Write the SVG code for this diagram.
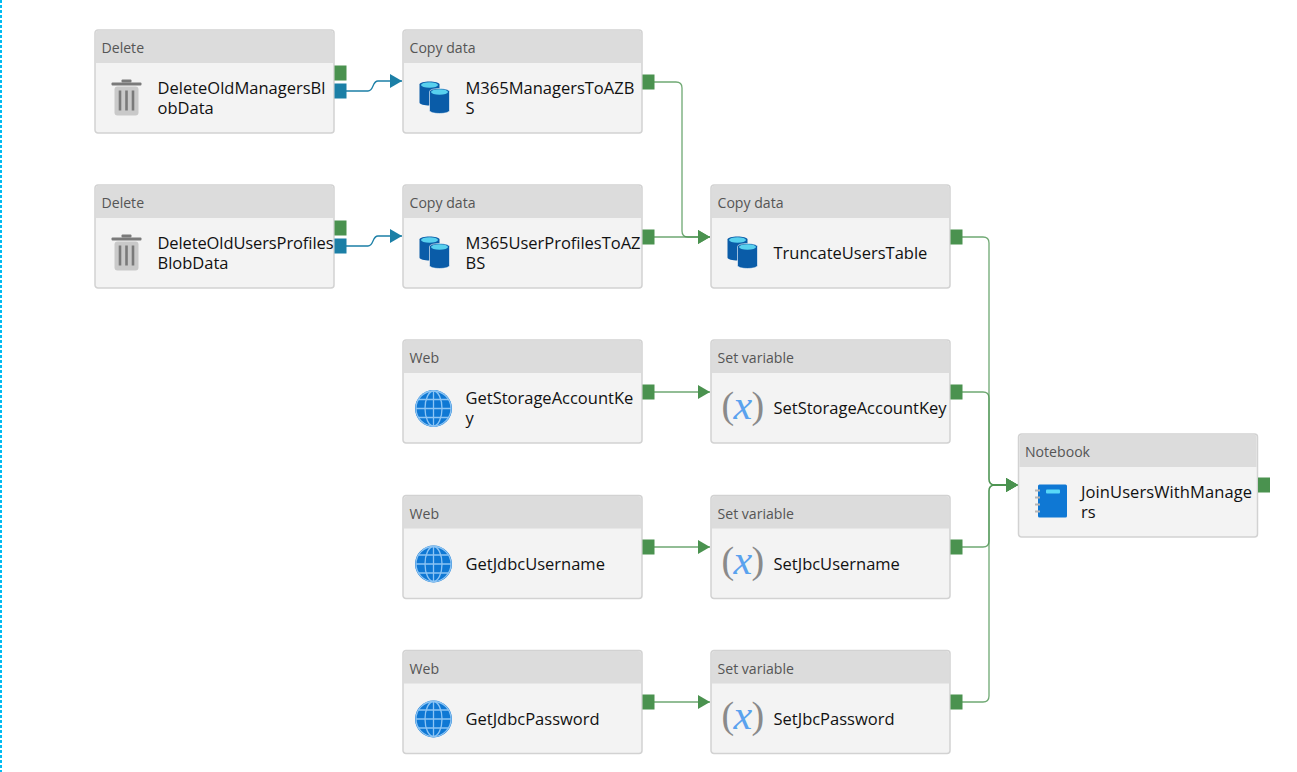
<svg xmlns="http://www.w3.org/2000/svg" xmlns:xlink="http://www.w3.org/1999/xlink" width="1297" height="772" viewBox="0 0 1297 772">
<style>
.box{fill:#f3f3f3;stroke:#d2d2d2;stroke-width:1.5}
.hd{fill:#dcdcdc}
.t{font-family:"Open Sans","Noto Sans",sans-serif;font-size:14.100px;fill:#555}
.n{font-family:"Open Sans","Noto Sans",sans-serif;font-size:16.500px;fill:#111}
.g{fill:#4a924f}
.b{fill:#1b7fa6}
.cg{fill:none;stroke:#4a924f;stroke-width:1.3;stroke-opacity:.8}
.cb{fill:none;stroke:#1b7fa6;stroke-width:1.3}
</style>
<defs>
<marker id="ag" markerUnits="userSpaceOnUse" markerWidth="12" markerHeight="14" refX="12" refY="7" orient="auto"><path d="M0 0L12 7L0 14Z" fill="#4a924f"/></marker>
<marker id="ab" markerUnits="userSpaceOnUse" markerWidth="12" markerHeight="14" refX="12" refY="7" orient="auto"><path d="M0 0L12 7L0 14Z" fill="#1b7fa6"/></marker>
<g id="box"><rect class="box" x="0.5" y="0.5" width="239" height="103" rx="3"/><path class="hd" d="M1.5 4a3 3 0 0 1 3-3H235.500a3 3 0 0 1 3 3V33.500H1.500Z"/></g>
<g id="trash"><rect x="3" y="8" width="24" height="29" rx="3" fill="#c9c9c9"/><rect x="0" y="4" width="30" height="3" rx="1" fill="#7a7a7a"/><rect x="10" y="1" width="10" height="3" rx="1" fill="#7a7a7a"/><path d="M8.500 12V32M15 12V32M21.500 12V32" stroke="#7a7a7a" stroke-width="2.600"/></g>
<g id="db"><path d="M0 4C0 0 20 0 20 4V22C20 26 0 26 0 22Z" fill="#0a5ca8"/><ellipse cx="10" cy="4.500" rx="8.500" ry="2.800" fill="#58d0ee"/><path d="M10 11C10 7 30 7 30 11V30C30 34 10 34 10 30Z" fill="#0a5ca8" stroke="#fff" stroke-width=".6"/><ellipse cx="20" cy="11.500" rx="8.500" ry="2.800" fill="#58d0ee"/></g>
<g id="web"><circle cx="19" cy="19" r="18.500" fill="#0f78d4"/><g fill="none" stroke="#8cc4f4" stroke-width="1.300"><circle cx="19" cy="19" r="17.500"/><ellipse cx="19" cy="19" rx="8.500" ry="17.500"/><path d="M19 1.500V36.500M1.500 19H36.500M4 10H34M4 28H34"/></g></g>
<g id="var"><text x="0" y="29" font-family="'Liberation Serif',serif" font-size="38" fill="#8a8a8a">(</text><text x="12" y="30" font-family="'Liberation Serif',serif" font-size="42" font-style="italic" fill="#5aa2ee">x</text><text x="30" y="29" font-family="'Liberation Serif',serif" font-size="38" fill="#8a8a8a">)</text></g>
<g id="nb"><rect x="3" y="0" width="29" height="33" rx="1.500" fill="#0f78d4"/><rect x="11" y="5" width="14" height="4" rx="1" fill="#58d8f8"/><path d="M0 6H5M0 13H5M0 20H5M0 27H5" stroke="#b5b5b5" stroke-width="2"/></g>
</defs>
<rect width="1297" height="772" fill="#fff"/>
<path d="M1 0V772" stroke="#00bcf2" stroke-width="2" stroke-dasharray="3 2"/>

<g id="connectors">
<path class="cb" d="M346 91H368C374 91 372 81 378 81H402" marker-end="url(#ab)"/>
<path class="cb" d="M346 246H368C374 246 372 236 378 236H402" marker-end="url(#ab)"/>
<path class="cg" d="M654 82H676Q682 82 682 88V231Q682 237 688 237H710" marker-end="url(#ag)"/>
<path class="cg" d="M654 237H710" marker-end="url(#ag)"/>
<path class="cg" d="M654 392H710" marker-end="url(#ag)"/>
<path class="cg" d="M654 547H710" marker-end="url(#ag)"/>
<path class="cg" d="M654 702H710" marker-end="url(#ag)"/>
<path class="cg" d="M962 237H983Q989 237 989 243V479Q989 485 995 485H1018" marker-end="url(#ag)"/>
<path class="cg" d="M962 392H983Q989 392 989 398V479Q989 485 995 485H1018" marker-end="url(#ag)"/>
<path class="cg" d="M962 547H983Q989 547 989 541V491Q989 485 995 485H1018" marker-end="url(#ag)"/>
<path class="cg" d="M962 702H983Q989 702 989 696V491Q989 485 995 485H1018" marker-end="url(#ag)"/>
</g>

<g id="n1" transform="translate(94.500,29.500)"><use href="#box"/><text class="t" x="7" y="23">Delete</text><use href="#trash" x="17" y="49"/><text class="n" x="63" y="64">DeleteOldManagersBl</text><text class="n" x="63" y="84">obData</text><rect class="g" x="240" y="36" width="12" height="15"/><rect class="b" x="240" y="54" width="12" height="15"/></g>
<g id="n2" transform="translate(94.500,184.500)"><use href="#box"/><text class="t" x="7" y="23">Delete</text><use href="#trash" x="17" y="49"/><text class="n" x="63" y="64" textLength="176">DeleteOldUsersProfiles</text><text class="n" x="63" y="84">BlobData</text><rect class="g" x="240" y="36" width="12" height="15"/><rect class="b" x="240" y="54" width="12" height="15"/></g>
<g id="n3" transform="translate(402.500,29.500)"><use href="#box"/><text class="t" x="7" y="23">Copy data</text><use href="#db" x="17" y="51"/><text class="n" x="63" y="64">M365ManagersToAZB</text><text class="n" x="63" y="84">S</text><rect class="g" x="240" y="45" width="12" height="15"/></g>
<g id="n4" transform="translate(402.500,184.500)"><use href="#box"/><text class="t" x="7" y="23">Copy data</text><use href="#db" x="17" y="51"/><text class="n" x="63" y="64" textLength="175">M365UserProfilesToAZ</text><text class="n" x="63" y="84">BS</text><rect class="g" x="240" y="45" width="12" height="15"/></g>
<g id="n5" transform="translate(710.500,184.500)"><use href="#box"/><text class="t" x="7" y="23">Copy data</text><use href="#db" x="17" y="51"/><text class="n" x="63" y="74">TruncateUsersTable</text><rect class="g" x="240" y="45" width="12" height="15"/></g>
<g id="n6" transform="translate(402.500,339.500)"><use href="#box"/><text class="t" x="7" y="23">Web</text><use href="#web" x="12" y="50"/><text class="n" x="63" y="64">GetStorageAccountKe</text><text class="n" x="63" y="84">y</text><rect class="g" x="240" y="45" width="12" height="15"/></g>
<g id="n7" transform="translate(710.500,339.500)"><use href="#box"/><text class="t" x="7" y="23">Set variable</text><use href="#var" x="11" y="49"/><text class="n" x="63" y="74">SetStorageAccountKey</text><rect class="g" x="240" y="45" width="12" height="15"/></g>
<g id="n8" transform="translate(402.500,495)"><use href="#box"/><text class="t" x="7" y="24">Web</text><use href="#web" x="12" y="50"/><text class="n" x="63" y="75">GetJdbcUsername</text><rect class="g" x="240" y="44.500" width="12" height="15"/></g>
<g id="n9" transform="translate(710.500,495)"><use href="#box"/><text class="t" x="7" y="24">Set variable</text><use href="#var" x="11" y="49"/><text class="n" x="63" y="75">SetJbcUsername</text><rect class="g" x="240" y="44.500" width="12" height="15"/></g>
<g id="n10" transform="translate(402.500,650)"><use href="#box"/><text class="t" x="7" y="24">Web</text><use href="#web" x="12" y="50"/><text class="n" x="63" y="75">GetJdbcPassword</text><rect class="g" x="240" y="44.500" width="12" height="15"/></g>
<g id="n11" transform="translate(710.500,650)"><use href="#box"/><text class="t" x="7" y="24">Set variable</text><use href="#var" x="11" y="49"/><text class="n" x="63" y="75">SetJbcPassword</text><rect class="g" x="240" y="44.500" width="12" height="15"/></g>
<g id="n12" transform="translate(1018,433.500)"><use href="#box"/><text class="t" x="7" y="23">Notebook</text><use href="#nb" x="17" y="51"/><text class="n" x="63" y="64" textLength="171">JoinUsersWithManage</text><text class="n" x="63" y="84">rs</text><rect class="g" x="240" y="44" width="12" height="15"/></g>
</svg>
